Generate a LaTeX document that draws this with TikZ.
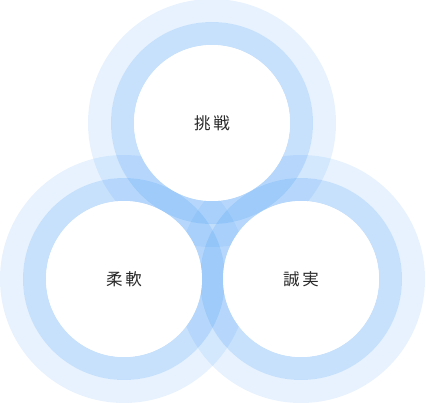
\documentclass[tikz,border=0pt]{standalone}
\usepackage{fontspec}
\newfontfamily\jpfont{Noto Sans CJK JP}
\usepackage{tikz}
\definecolor{ringblue}{RGB}{61,150,245}
\definecolor{textgray}{RGB}{40,40,40}
\begin{document}
\begin{tikzpicture}[x=1pt,y=-1pt,
  halo/.style={fill=ringblue,fill opacity=0.12,even odd rule},
  band/.style={fill=ringblue,fill opacity=0.29,even odd rule},
  core/.style={circle,fill=white,minimum size=156pt,inner sep=0pt,
    font=\jpfont\fontsize{16.5pt}{16.5pt}\selectfont,text=textgray}]
\useasboundingbox (0,0) rectangle (426,402);
\coordinate (top) at (212,123);
\coordinate (left) at (124,279);
\coordinate (right) at (301,279);
% outer light halos
\fill[halo] (top) circle (124pt) circle (101pt);
\fill[halo] (left) circle (124pt) circle (101pt);
\fill[halo] (right) circle (124pt) circle (101pt);
% middle bands
\fill[band] (top) circle (101pt) circle (78pt);
\fill[band] (left) circle (101pt) circle (78pt);
\fill[band] (right) circle (101pt) circle (78pt);
% white centres with the words
\node[core] (challenge) at (top) {挑\hspace{3pt}戦};
\node[core] (flexible) at (left) {柔\hspace{3pt}軟};
\node[core] (sincere) at (right) {誠\hspace{3pt}実};
\end{tikzpicture}
\end{document}
